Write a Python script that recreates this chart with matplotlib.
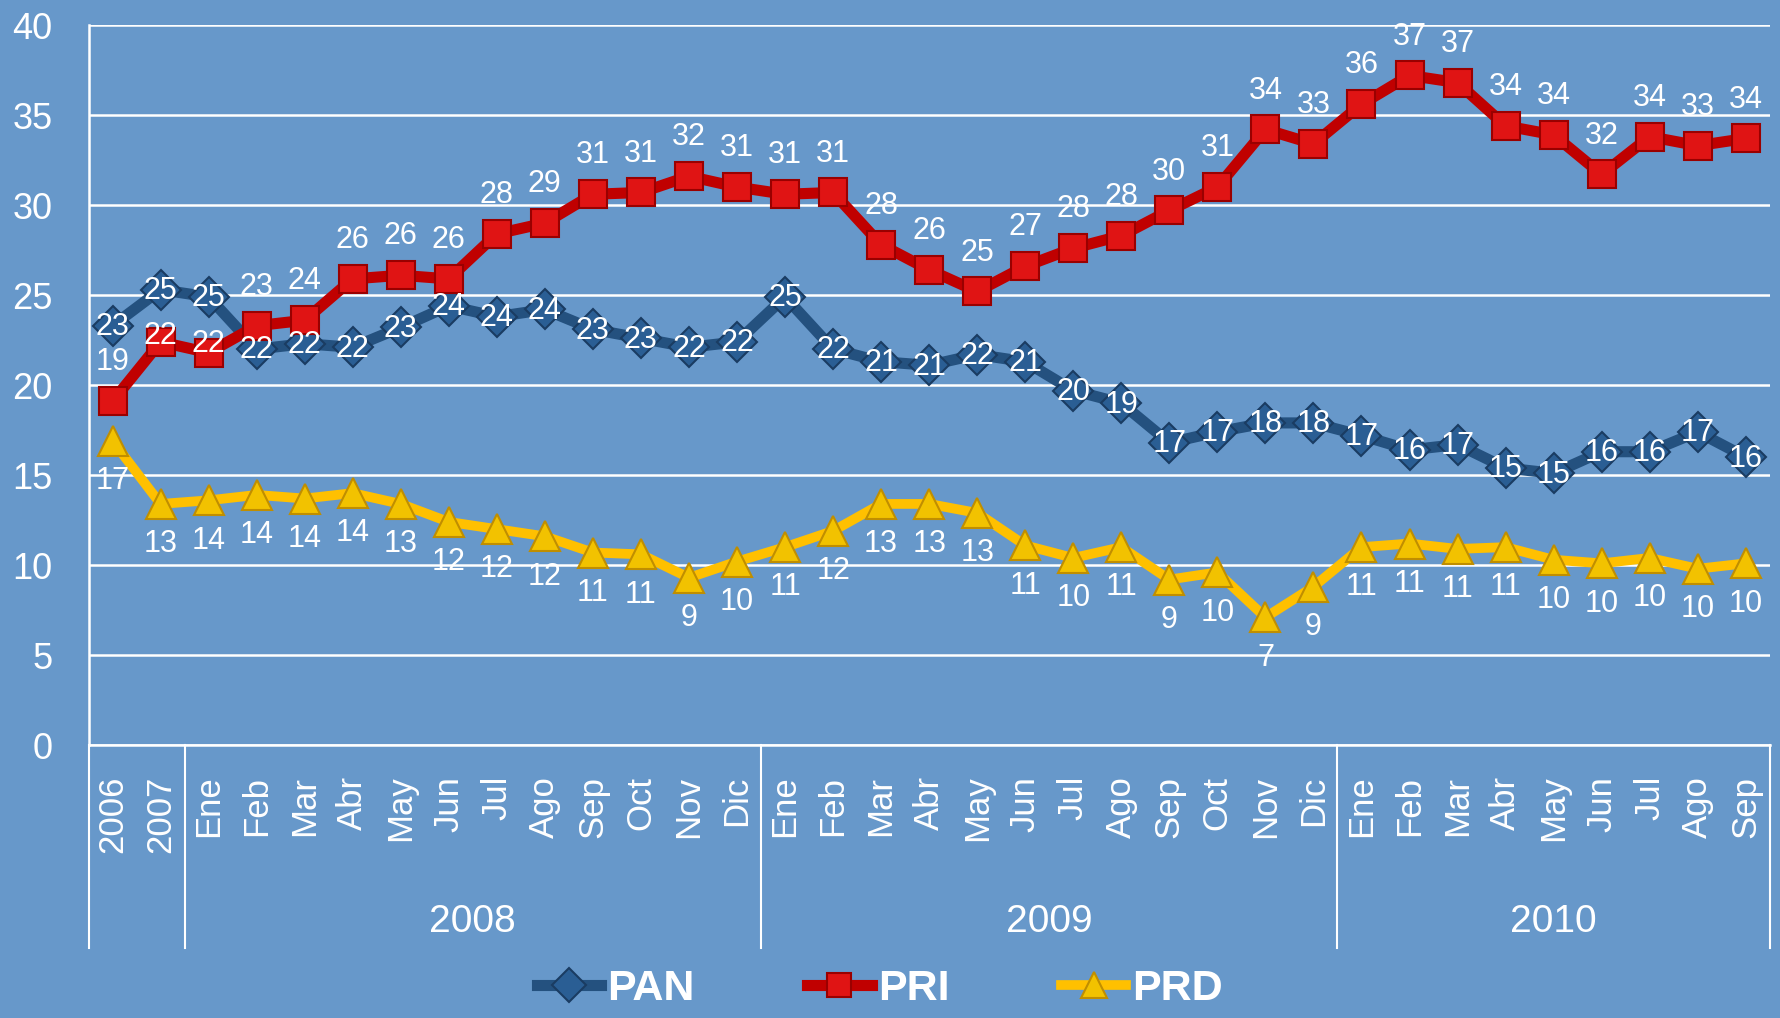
import matplotlib
matplotlib.use("Agg")
import matplotlib.pyplot as plt
import matplotlib.transforms as mtransforms

# categories
months_2008 = ['Ene', 'Feb', 'Mar', 'Abr', 'May', 'Jun', 'Jul', 'Ago', 'Sep', 'Oct', 'Nov', 'Dic']
months_2010 = ['Ene', 'Feb', 'Mar', 'Abr', 'May', 'Jun', 'Jul', 'Ago', 'Sep']
categories = ['2006', '2007'] + months_2008 + months_2008 + months_2010
years = ['2008', '2009', '2010']

# series (percent)
pan = [23.3, 25.3, 24.9, 22.0, 22.3, 22.1, 23.2, 24.4, 23.8, 24.2, 23.1, 22.6, 22.1, 22.4,
       24.9, 22.0, 21.3, 21.1, 21.7, 21.3, 19.7, 19.0, 16.8, 17.4, 17.9, 17.9,
       17.2, 16.4, 16.7, 15.4, 15.1, 16.3, 16.3, 17.4, 16.0]
pri = [19.1, 22.4, 21.8, 23.3, 23.6, 25.9, 26.1, 25.9, 28.4, 29.0, 30.6, 30.7, 31.6, 31.0,
       30.6, 30.7, 27.8, 26.4, 25.2, 26.6, 27.6, 28.3, 29.7, 31.0, 34.2, 33.4,
       35.6, 37.2, 36.8, 34.4, 33.9, 31.7, 33.8, 33.3, 33.7]
prd = [16.9, 13.4, 13.6, 13.9, 13.7, 14.0, 13.4, 12.4, 12.0, 11.6, 10.7, 10.6, 9.3, 10.2,
       11.0, 11.9, 13.4, 13.4, 12.9, 11.1, 10.4, 11.0, 9.2, 9.6, 7.1, 8.8,
       11.0, 11.2, 10.9, 11.0, 10.3, 10.1, 10.4, 9.8, 10.1]

bg = '#6798CA'
main_font = ['Liberation Sans', 'DejaVu Sans']
plt.rcParams['font.family'] = main_font

fig = plt.figure(figsize=(17.81, 10.18), dpi=100, facecolor=bg)
ax = fig.add_axes([0.0497, 0.268, 0.944, 0.7074])
ax.set_facecolor(bg)

x = list(range(len(categories)))

ax.plot(x, pan, color='#24517F', lw=8, marker='D', ms=20, mfc='#2A5E94',
        mec='#1A3C62', mew=1.5, label='PAN', zorder=3)
ax.plot(x, pri, color='#C00000', lw=8, marker='s', ms=20, mfc='#E01414',
        mec='#9A0000', mew=1.5, label='PRI', zorder=4)
ax.plot(x, prd, color='#FFC000', lw=7, marker='^', ms=22, mfc='#F2C200',
        mec='#C08E00', mew=1.5, label='PRD', zorder=3)

# data labels
lab_kw = dict(textcoords='offset points', ha='center', va='center',
              color='white', fontsize=22, zorder=6)
for i in x:
    ax.annotate(f'{pan[i]:.0f}', (i, pan[i]), xytext=(0, -1), **lab_kw)
    dy = 28
    if i == 1:
        dy = 4
    elif i == 2:
        dy = 6
    ax.annotate(f'{pri[i]:.0f}', (i, pri[i]), xytext=(0, dy), **lab_kw)
    ax.annotate(f'{prd[i]:.0f}', (i, prd[i]), xytext=(0, -29), **lab_kw)

ax.set_xlim(-0.5, len(categories) - 0.5)
ax.set_ylim(0, 40)
ax.set_yticks(range(0, 41, 5))
ax.yaxis.grid(True, color='white', lw=1.8)
ax.set_axisbelow(True)

ax.set_xticks(x)
ax.set_xticklabels(categories, rotation=90, va='top')
ax.tick_params(axis='x', length=0, pad=22, labelsize=25, colors='white')
ax.tick_params(axis='y', length=0, pad=26, labelsize=26, colors='white')

for s in ['top', 'right']:
    ax.spines[s].set_visible(False)
for s in ['left', 'bottom']:
    ax.spines[s].set_color('white')
    ax.spines[s].set_linewidth(1.8)

# year group separators and labels
trans = mtransforms.blended_transform_factory(ax.transData, ax.transAxes)
for b in [-0.5, 1.5, 13.5, 25.5, len(categories) - 0.5]:
    ax.plot([b, b], [0, -0.282], color='white', lw=1.5, transform=trans, clip_on=False)
bounds = [1.5, 13.5, 25.5, len(categories) - 0.5]
for k, yr in enumerate(years):
    ax.text((bounds[k] + bounds[k + 1]) / 2, -0.246, yr, transform=trans,
            ha='center', va='center', color='white', fontsize=28)

leg = fig.legend(loc='center', bbox_to_anchor=(0.494, 0.028), ncol=3, frameon=False,
                 prop={'weight': 'bold', 'size': 31},
                 labelcolor='white', handlelength=1.5, handletextpad=0.15,
                 columnspacing=2.6, markerscale=0.85)

fig.savefig('out.png', dpi=100, facecolor=bg)
